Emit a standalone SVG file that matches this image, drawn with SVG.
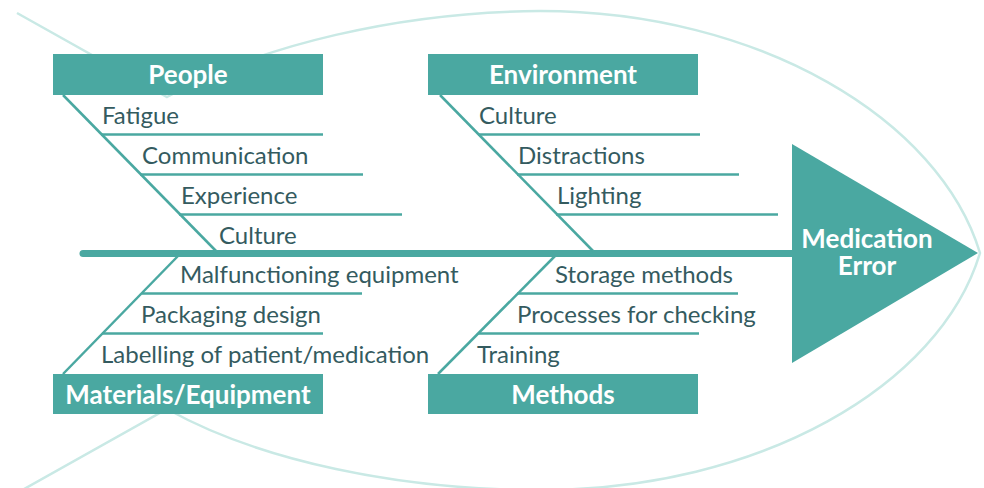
<svg xmlns="http://www.w3.org/2000/svg" width="984" height="488" viewBox="0 0 984 488">
<style>
.fish{fill:none;stroke:#c9e9e5;stroke-width:2.5}
.bone{stroke:#4aa8a1;stroke-width:2.5;fill:none}
.box{fill:#4aa8a1}
.cat{font-family:Lato,"Open Sans",sans-serif;font-weight:bold;font-size:26px;fill:#ffffff;text-anchor:middle}
.lbl{font-family:Lato,"Open Sans",sans-serif;font-size:24px;fill:#345b5f}
</style>
<rect width="984" height="488" fill="#ffffff"/>
<g id="fish-outline">
<path class="fish" d="M17,13 L167,97 C260,45 400,12 540,11 C760,11 940,120 980,253 C940,386 760,490 540,490 C400,490 260,461 167,409 L17,493"/>
</g>
<g id="connectors">
<line x1="83" y1="253.5" x2="795" y2="253.5" stroke="#4aa8a1" stroke-width="7" stroke-linecap="round"/>
<line class="bone" x1="63" y1="95" x2="217" y2="252"/>
<line class="bone" x1="101" y1="134.5" x2="323" y2="134.5"/>
<line class="bone" x1="140" y1="174.5" x2="363" y2="174.5"/>
<line class="bone" x1="179" y1="214.5" x2="402" y2="214.5"/>
<line class="bone" x1="440" y1="95" x2="594" y2="252"/>
<line class="bone" x1="478" y1="134.5" x2="700" y2="134.5"/>
<line class="bone" x1="517" y1="174.5" x2="739" y2="174.5"/>
<line class="bone" x1="556" y1="214.5" x2="778" y2="214.5"/>
<line class="bone" x1="63" y1="374" x2="178" y2="256"/>
<line class="bone" x1="142" y1="293.5" x2="362" y2="293.5"/>
<line class="bone" x1="102" y1="333.5" x2="323" y2="333.5"/>
<line class="bone" x1="438" y1="374" x2="555" y2="256"/>
<line class="bone" x1="517" y1="293.5" x2="738" y2="293.5"/>
<line class="bone" x1="478" y1="333.5" x2="699" y2="333.5"/>
</g>
<g id="head">
<polygon class="box" points="792,144 792,363 978,253"/>
<text class="cat" x="867" y="248" font-size="25">Medication</text>
<text class="cat" x="867" y="275" font-size="25">Error</text>
</g>
<g id="people">
<rect class="box" x="53" y="54" width="270" height="41"/>
<text class="cat" x="188" y="84">People</text>
<text class="lbl" x="102" y="124">Fatigue</text>
<text class="lbl" x="142" y="164">Communication</text>
<text class="lbl" x="181" y="204">Experience</text>
<text class="lbl" x="219" y="244">Culture</text>
</g>
<g id="environment">
<rect class="box" x="428" y="54" width="270" height="41"/>
<text class="cat" x="563" y="84">Environment</text>
<text class="lbl" x="479" y="124">Culture</text>
<text class="lbl" x="518" y="164">Distractions</text>
<text class="lbl" x="557" y="204">Lighting</text>
</g>
<g id="materials">
<rect class="box" x="53" y="374" width="270" height="40"/>
<text class="cat" x="188" y="404">Materials/Equipment</text>
<text class="lbl" x="180" y="283">Malfunctioning equipment</text>
<text class="lbl" x="141" y="323">Packaging design</text>
<text class="lbl" x="101" y="363">Labelling of patient/medication</text>
</g>
<g id="methods">
<rect class="box" x="428" y="374" width="270" height="40"/>
<text class="cat" x="563" y="404">Methods</text>
<text class="lbl" x="555" y="283">Storage methods</text>
<text class="lbl" x="517" y="323">Processes for checking</text>
<text class="lbl" x="477" y="363">Training</text>
</g>
</svg>
